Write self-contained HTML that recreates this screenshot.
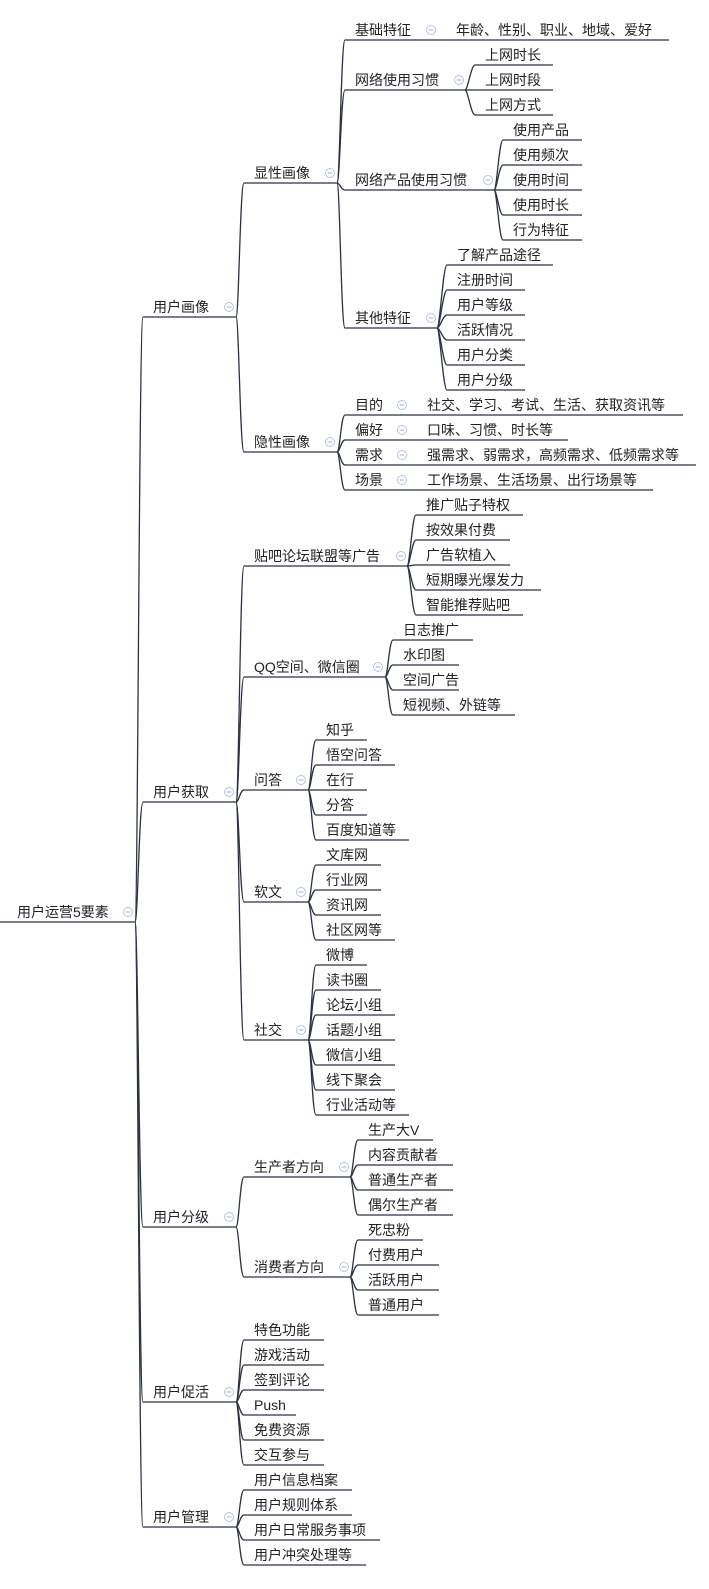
<!DOCTYPE html>
<html><head><meta charset="utf-8"><style>
html,body{margin:0;padding:0;background:#fff;}
svg{display:block;}
text{font-family:"Liberation Sans","Noto Sans CJK SC",sans-serif;font-size:14px;fill:#222;}
</style></head><body>
<svg id="m" width="709" height="1589" xmlns="http://www.w3.org/2000/svg"></svg>
<script>
function N(l,x0,x1,y,ic,kids,extra,ex){return {l:l,x0:x0,x1:x1,y:y,ic:ic,k:kids||[],e:extra,ex:ex};}
function L(list,x0){return list.map(function(a){return N(a[0],x0,a[2],a[1]);});}
var tree=N("用户运营5要素",0,135,922,128,[
 N("用户画像",143,236,317,229,[
  N("显性画像",244,337,183,330,[
   N("基础特征",345,669,40,431,[],"年龄、性别、职业、地域、爱好",456),
   N("网络使用习惯",345,465,90,459,L([["上网时长",65,553],["上网时段",90,553],["上网方式",115,553]],475)),
   N("网络产品使用习惯",345,494,190,488,L([["使用产品",140,582],["使用频次",165,582],["使用时间",190,582],["使用时长",215,582],["行为特征",240,582]],503)),
   N("其他特征",345,437,328,431,L([["了解产品途径",265,553],["注册时间",290,525],["用户等级",315,525],["活跃情况",340,525],["用户分类",365,525],["用户分级",390,525]],447))
  ]),
  N("隐性画像",244,337,452,330,[
   N("目的",345,683,415,402,[],"社交、学习、考试、生活、获取资讯等",427),
   N("偏好",345,568,440,402,[],"口味、习惯、时长等",427),
   N("需求",345,696,465,402,[],"强需求、弱需求，高频需求、低频需求等",427),
   N("场景",345,653,490,402,[],"工作场景、生活场景、出行场景等",427)
  ])
 ]),
 N("用户获取",143,236,802,229,[
  N("贴吧论坛联盟等广告",244,407,566,401,L([["推广贴子特权",515,523],["按效果付费",540,510],["广告软植入",565,510],["短期曝光爆发力",590,541],["智能推荐贴吧",615,523]],416)),
  N("QQ空间、微信圈",244,385,677,378,L([["日志推广",640,473],["水印图",665,459],["空间广告",690,459],["短视频、外链等",715,515]],393)),
  N("问答",244,308,790,301,L([["知乎",740,367],["悟空问答",765,395],["在行",790,367],["分答",815,367],["百度知道等",840,409]],316)),
  N("软文",244,308,902,301,L([["文库网",865,381],["行业网",890,381],["资讯网",915,381],["社区网等",940,395]],316)),
  N("社交",244,308,1040,301,L([["微博",965,367],["读书圈",990,381],["论坛小组",1015,395],["话题小组",1040,395],["微信小组",1065,395],["线下聚会",1090,395],["行业活动等",1115,409]],316))
 ]),
 N("用户分级",143,236,1227,229,[
  N("生产者方向",244,350,1177,344,L([["生产大V",1140,433],["内容贡献者",1165,453],["普通生产者",1190,453],["偶尔生产者",1215,453]],358)),
  N("消费者方向",244,350,1277,344,L([["死忠粉",1240,423],["付费用户",1265,439],["活跃用户",1290,439],["普通用户",1315,439]],358))
 ]),
 N("用户促活",143,236,1402,229,L([["特色功能",1340,324],["游戏活动",1365,324],["签到评论",1390,324],["Push",1415,296],["免费资源",1440,324],["交互参与",1465,324]],244)),
 N("用户管理",143,236,1527,229,L([["用户信息档案",1490,352],["用户规则体系",1515,352],["用户日常服务事项",1540,380],["用户冲突处理等",1565,366]],244))
]);
var s="";
function draw(n,isRoot){
 s+='<line x1="'+n.x0+'" y1="'+n.y+'" x2="'+n.x1+'" y2="'+n.y+'" stroke="#2b3245" stroke-width="1.3"/>';
 var tx=isRoot?17:n.x0+10;
 s+='<text x="'+tx+'" y="'+(n.y-5)+'">'+n.l+'</text>';
 if(n.ic){s+='<circle cx="'+n.ic+'" cy="'+(n.y-10)+'" r="4.5" fill="#fff" stroke="#b4c4e4" stroke-width="1"/><line x1="'+(n.ic-2.5)+'" y1="'+(n.y-10)+'" x2="'+(n.ic+2.5)+'" y2="'+(n.y-10)+'" stroke="#9fb2dc" stroke-width="1"/>';}
 if(n.e){s+='<text x="'+n.ex+'" y="'+(n.y-5)+'">'+n.e+'</text>';}
 n.k.forEach(function(c){
  var mx=n.x1+(c.x0-n.x1)*0.5;
  s+='<path d="M'+n.x1+' '+n.y+' C'+(n.x1+3)+' '+n.y+' '+(c.x0-4)+' '+c.y+' '+c.x0+' '+c.y+'" fill="none" stroke="#2b3245" stroke-width="1.3"/>';
  draw(c,false);
 });
}
draw(tree,true);
document.getElementById("m").innerHTML=s;
</script>
</body></html>
